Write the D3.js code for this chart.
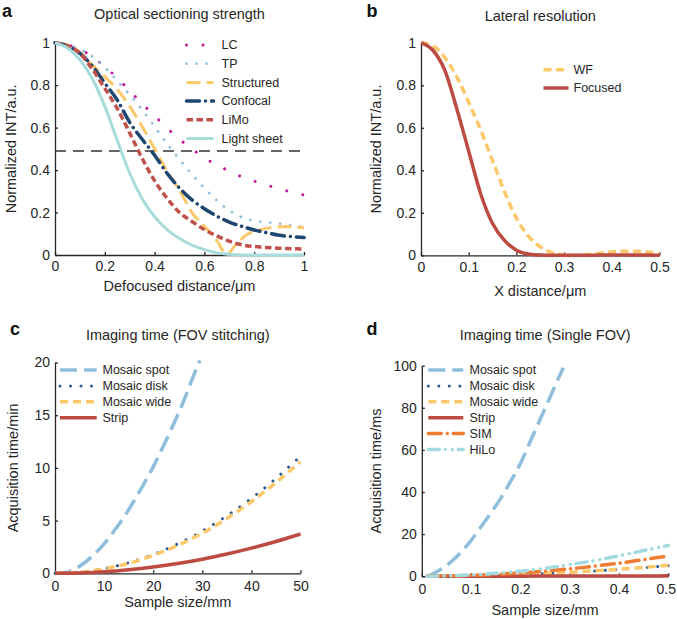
<!DOCTYPE html>
<html>
<head>
<meta charset="utf-8">
<script src="https://cdn.jsdelivr.net/npm/d3@7"></script>
<style>
  body { margin: 0; background: #fff; }
  svg { display: block; font-family: "Liberation Sans", Arial, Helvetica, sans-serif; }
  .axis path, .axis line { stroke: #262626; stroke-width: 1.3; }
  .axis text { font-size: 14px; fill: #262626; font-family: "Liberation Sans", Arial, sans-serif; }
  .title, .label { font-size: 14.5px; fill: #262626; }
  .legend text { font-size: 12.5px; fill: #262626; }
  .letter { font-size: 18px; font-weight: bold; fill: #111; }
</style>
</head>
<body>
<svg id="chart" width="677" height="619"></svg>
<script>
// ---- Panel a: optical sectioning strength ----
const defocusX = [0, 0.05, 0.1, 0.15, 0.2, 0.25, 0.3, 0.35, 0.4, 0.45, 0.5, 0.55, 0.6, 0.65, 0.7, 0.75, 0.8, 0.85, 0.9, 0.95, 1];
const lcValues = [1, 0.99, 0.97, 0.933, 0.887, 0.834, 0.773, 0.713, 0.656, 0.598, 0.545, 0.5, 0.458, 0.424, 0.395, 0.368, 0.348, 0.329, 0.312, 0.296, 0.283];
const tpValues = [1, 0.99, 0.97, 0.935, 0.885, 0.82, 0.755, 0.685, 0.605, 0.525, 0.45, 0.38, 0.315, 0.257, 0.21, 0.178, 0.162, 0.154, 0.148, 0.14, 0.133];
const confocalValues = [1, 0.985, 0.95, 0.89, 0.81, 0.73, 0.625, 0.545, 0.47, 0.385, 0.315, 0.26, 0.218, 0.183, 0.155, 0.135, 0.118, 0.105, 0.093, 0.087, 0.082];
const limoValues = [1, 0.985, 0.95, 0.875, 0.785, 0.69, 0.575, 0.455, 0.35, 0.267, 0.2, 0.158, 0.12, 0.09, 0.065, 0.048, 0.04, 0.035, 0.032, 0.03, 0.028];
const lightSheetValues = [1, 0.975, 0.92, 0.83, 0.7, 0.54, 0.385, 0.265, 0.18, 0.12, 0.078, 0.047, 0.025, 0.01, 0.003, 0, 0, 0, 0, 0, 0];
const structuredX = [0, 0.05, 0.1, 0.15, 0.2, 0.25, 0.3, 0.35, 0.4, 0.45, 0.5, 0.55, 0.6, 0.65, 0.69, 0.72, 0.77, 0.82, 0.87, 0.93, 1];
const structuredValues = [1, 0.99, 0.955, 0.895, 0.84, 0.78, 0.7, 0.605, 0.5, 0.395, 0.305, 0.2, 0.135, 0.068, 0, 0.04, 0.095, 0.118, 0.129, 0.134, 0.128];
const halfMaxLevel = 0.49;

// ---- Panel b: lateral resolution ----
const lateralX = [0, 0.025, 0.05, 0.075, 0.1, 0.125, 0.15, 0.175, 0.2, 0.225, 0.25, 0.275, 0.3, 0.325, 0.35, 0.375, 0.4, 0.425, 0.45, 0.475, 0.5];
const wfValues = [1, 0.985, 0.93, 0.84, 0.72, 0.59, 0.445, 0.3, 0.175, 0.09, 0.04, 0.012, 0.002, 0, 0.004, 0.01, 0.016, 0.019, 0.019, 0.015, 0.008];
const focusedValues = [1, 0.965, 0.87, 0.69, 0.49, 0.29, 0.15, 0.07, 0.024, 0.006, 0.001, 0, 0, 0, 0, 0.001, 0.002, 0.002, 0.002, 0.001, 0];

// ---- Panel c: imaging time, FOV stitching (min) ----
const stitchX = [0, 5, 10, 15, 20, 25, 30, 35, 40, 45, 50];
const spotStitchX = [0, 2, 4, 6, 8, 10, 12, 14, 16, 18, 20, 22, 24, 26, 28, 29.5];
const spotStitchValues = [0, 0.05, 0.4, 1.0, 1.8, 2.8, 4.0, 5.3, 6.8, 8.4, 10.1, 12.0, 14.0, 16.1, 18.5, 20.2];
const diskStitchValues = [0, 0.1, 0.44, 1.0, 1.78, 2.8, 4.0, 5.45, 7.1, 9.0, 11.1];
const wideStitchValues = [0, 0.1, 0.42, 0.95, 1.7, 2.65, 3.8, 5.2, 6.8, 8.6, 10.6];
const stripStitchValues = [0, 0.04, 0.15, 0.34, 0.6, 0.93, 1.34, 1.83, 2.39, 3.02, 3.73];

// ---- Panel d: imaging time, single FOV (ms) ----
const fovX = [0.01, 0.05, 0.1, 0.15, 0.2, 0.25, 0.3, 0.35, 0.4, 0.45, 0.5];
const spotFovX = [0.01, 0.02, 0.04, 0.06, 0.08, 0.1, 0.12, 0.14, 0.16, 0.18, 0.2, 0.22, 0.24, 0.26, 0.28, 0.287];
const spotFovValues = [0, 0.8, 3.5, 7, 11.5, 17, 23.5, 30, 37, 45, 53.5, 64, 74.5, 85, 95.5, 99];
const diskFovValues = [0, 0.05, 0.2, 0.45, 0.8, 1.25, 1.8, 2.45, 3.2, 4.05, 5.0];
const wideFovValues = [0, 0.05, 0.21, 0.47, 0.83, 1.3, 1.87, 2.55, 3.32, 4.2, 5.2];
const stripFovValues = [0, 0.005, 0.01, 0.02, 0.03, 0.045, 0.06, 0.08, 0.1, 0.13, 0.16];
const simFovValues = [0, 0.1, 0.4, 0.88, 1.55, 2.45, 3.5, 4.8, 6.2, 7.9, 9.6];
const hiloFovValues = [0, 0.15, 0.6, 1.35, 2.4, 3.75, 5.5, 7.4, 9.7, 12.2, 14.6];

// line styles used by the panels
const styles = {
  lc:         { color: '#c1189a', width: 3,   dash: '0.01,16.5', cap: 'round' },
  tp:         { color: '#8fc1de', width: 2.8, dash: '0.01,10',   cap: 'round' },
  structured: { color: '#fdc86a', width: 3,   dash: '14,6',      cap: 'butt' },
  confocal:   { color: '#1d4670', width: 3.5, dash: '13,6,0.01,6', cap: 'round' },
  limo:       { color: '#c0504a', width: 3.5, dash: '6.5,3.5',   cap: 'butt' },
  lightSheet: { color: '#a6dcdc', width: 3,   dash: null,        cap: 'butt' },
  wf:         { color: '#fdc86a', width: 3.5, dash: '8,4.5',     cap: 'butt' },
  focused:    { color: '#bd4b41', width: 3.5, dash: null,        cap: 'butt' },
  spot:       { color: '#8ebedc', width: 3.5, dash: '17,7',      cap: 'butt' },
  disk:       { color: '#2b5b95', width: 3,   dash: '0.01,10.5', cap: 'round' },
  wide:       { color: '#fdc86a', width: 3.5, dash: '8,5',       cap: 'butt' },
  strip:      { color: '#bd4b41', width: 3.5, dash: null,        cap: 'butt' },
  sim:        { color: '#ee7d32', width: 3.5, dash: '13,6,0.01,6', cap: 'round' },
  hilo:       { color: '#a3dadf', width: 3.5, dash: '11,6,0.01,7,0.01,6', cap: 'round' }
};

const svg = d3.select('#chart');

const panels = [
  {
    letter: 'a', letterX: 2, letterY: 16.5,
    title: 'Optical sectioning strength', titleY: 19,
    xLabel: 'Defocused distance/\u03bcm', xLabelY: 291,
    yLabel: 'Normalized INT/a.u.', yLabelX: 16,
    left: 55, right: 304, top: 42.7, bottom: 255,
    xDomain: [0, 1], yDomain: [0, 1],
    xTicks: [0, 0.2, 0.4, 0.6, 0.8, 1], yTicks: [0, 0.2, 0.4, 0.6, 0.8, 1],
    xPad: 6, yPad: 5,
    refLine: halfMaxLevel,
    series: [
      { name: 'LC', x: defocusX, y: lcValues, style: styles.lc },
      { name: 'TP', x: defocusX, y: tpValues, style: styles.tp },
      { name: 'Structured', x: structuredX, y: structuredValues, style: styles.structured },
      { name: 'Confocal', x: defocusX, y: confocalValues, style: styles.confocal },
      { name: 'LiMo', x: defocusX, y: limoValues, style: styles.limo },
      { name: 'Light sheet', x: defocusX, y: lightSheetValues, style: styles.lightSheet }
    ],
    legend: { x0: 186.5, x1: 213.5, textX: 221.5, y0: 45, step: 18.7 }
  },
  {
    letter: 'b', letterX: 366.5, letterY: 16.5,
    title: 'Lateral resolution', titleY: 21,
    xLabel: 'X distance/\u03bcm', xLabelY: 296,
    yLabel: 'Normalized INT/a.u.', yLabelX: 381,
    left: 421, right: 659.5, top: 42.8, bottom: 255.3,
    xDomain: [0, 0.5], yDomain: [0, 1],
    xTicks: [0, 0.1, 0.2, 0.3, 0.4, 0.5], yTicks: [0, 0.2, 0.4, 0.6, 0.8, 1],
    xPad: 7, yPad: 5,
    series: [
      { name: 'WF', x: lateralX, y: wfValues, style: styles.wf },
      { name: 'Focused', x: lateralX, y: focusedValues, style: styles.focused }
    ],
    legend: { x0: 543.5, x1: 568.5, textX: 573.5, y0: 69.7, step: 18.3 }
  },
  {
    letter: 'c', letterX: 10, letterY: 335,
    title: 'Imaging time (FOV stitching)', titleY: 340,
    xLabel: 'Sample size/mm', xLabelY: 607,
    yLabel: 'Acquisition time/min', yLabelX: 17.5,
    left: 55, right: 300.5, top: 362.5, bottom: 573.3,
    xDomain: [0, 50], yDomain: [0, 20],
    xTicks: [0, 10, 20, 30, 40, 50], yTicks: [0, 5, 10, 15, 20],
    xPad: 7.5, yPad: 5,
    series: [
      { name: 'Mosaic spot', x: spotStitchX, y: spotStitchValues, style: styles.spot },
      { name: 'Mosaic disk', x: stitchX, y: diskStitchValues, style: styles.disk },
      { name: 'Mosaic wide', x: stitchX, y: wideStitchValues, style: styles.wide },
      { name: 'Strip', x: stitchX, y: stripStitchValues, style: styles.strip }
    ],
    legend: { x0: 60, x1: 96.7, textX: 102.5, y0: 370, step: 15.9 }
  },
  {
    letter: 'd', letterX: 366.5, letterY: 335,
    title: 'Imaging time (Single FOV)', titleY: 340,
    xLabel: 'Sample size/mm', xLabelY: 615,
    yLabel: 'Acquisition time/ms', yLabelX: 381,
    left: 421.8, right: 668.3, top: 365.7, bottom: 576.2,
    xDomain: [0, 0.5], yDomain: [0, 100],
    xTicks: [0, 0.1, 0.2, 0.3, 0.4, 0.5], yTicks: [0, 20, 40, 60, 80, 100],
    xPad: 8, yPad: 5,
    lastTickShift: -2.5, // keeps "0.5" inside the window
    series: [
      { name: 'Mosaic spot', x: spotFovX, y: spotFovValues, style: styles.spot },
      { name: 'Mosaic disk', x: fovX, y: diskFovValues, style: styles.disk },
      { name: 'Mosaic wide', x: fovX, y: wideFovValues, style: styles.wide },
      { name: 'Strip', x: fovX, y: stripFovValues, style: styles.strip },
      { name: 'SIM', x: fovX, y: simFovValues, style: styles.sim },
      { name: 'HiLo', x: fovX, y: hiloFovValues, style: styles.hilo }
    ],
    legend: { x0: 428.3, x1: 463.3, textX: 469.5, y0: 370, step: 15.9 }
  }
];

// apply a line style to a selection of paths
function applyStyle(sel, st) {
  sel.attr('fill', 'none')
    .attr('stroke', st.color)
    .attr('stroke-width', st.width)
    .attr('stroke-linecap', st.cap)
    .attr('stroke-linejoin', 'round')
    .attr('stroke-dasharray', st.dash);
}

// draws one panel: axes, curves, legend and texts
function drawPanel(p) {
  const g = svg.append('g');

  const x = d3.scaleLinear().domain(p.xDomain).range([p.left, p.right]);
  const y = d3.scaleLinear().domain(p.yDomain).range([p.bottom, p.top]);
  const fmt = d3.format('~g');

  // inward ticks like matlab
  const xAxis = g.append('g')
    .attr('class', 'axis')
    .attr('transform', `translate(0,${p.bottom})`)
    .call(d3.axisBottom(x).tickValues(p.xTicks).tickFormat(fmt)
      .tickSizeInner(-3).tickSizeOuter(0).tickPadding(p.xPad));

  if (p.lastTickShift) {
    xAxis.selectAll('.tick text')
      .filter((d, i, nodes) => i === nodes.length - 1)
      .attr('dx', p.lastTickShift);
  }

  g.append('g')
    .attr('class', 'axis')
    .attr('transform', `translate(${p.left},0)`)
    .call(d3.axisLeft(y).tickValues(p.yTicks).tickFormat(fmt)
      .tickSizeInner(-3).tickSizeOuter(0).tickPadding(p.yPad));

  // horizontal reference line (half maximum)
  if (p.refLine !== undefined) {
    g.append('line')
      .attr('x1', x(p.xDomain[0])).attr('x2', x(p.xDomain[1]))
      .attr('y1', y(p.refLine)).attr('y2', y(p.refLine))
      .attr('stroke', '#333')
      .attr('stroke-width', 1.4)
      .attr('stroke-dasharray', '11,7');
  }

  const line = d3.line()
    .x(d => x(d[0]))
    .y(d => y(d[1]))
    .curve(d3.curveMonotoneX);

  p.series.forEach(s => {
    const pts = s.x.map((v, i) => [v, s.y[i]]);
    g.append('path').datum(pts).attr('d', line).call(applyStyle, s.style);
  });

  // legend
  const lg = g.append('g').attr('class', 'legend');
  p.series.forEach((s, i) => {
    const ly = p.legend.y0 + i * p.legend.step;
    lg.append('path')
      .attr('d', `M${p.legend.x0},${ly}H${p.legend.x1}`)
      .call(applyStyle, s.style);
    lg.append('text')
      .attr('x', p.legend.textX)
      .attr('y', ly)
      .attr('dy', '0.35em')
      .text(s.name);
  });

  // title and axis labels
  g.append('text').attr('class', 'title')
    .attr('x', (p.left + p.right) / 2).attr('y', p.titleY)
    .attr('text-anchor', 'middle').text(p.title);

  g.append('text').attr('class', 'label')
    .attr('x', (p.left + p.right) / 2).attr('y', p.xLabelY)
    .attr('text-anchor', 'middle').text(p.xLabel);

  g.append('text').attr('class', 'label')
    .attr('transform', `translate(${p.yLabelX},${(p.top + p.bottom) / 2}) rotate(-90)`)
    .attr('text-anchor', 'middle').text(p.yLabel);

  g.append('text').attr('class', 'letter')
    .attr('x', p.letterX).attr('y', p.letterY).text(p.letter);
}

panels.forEach(drawPanel);
</script>
</body>
</html>
